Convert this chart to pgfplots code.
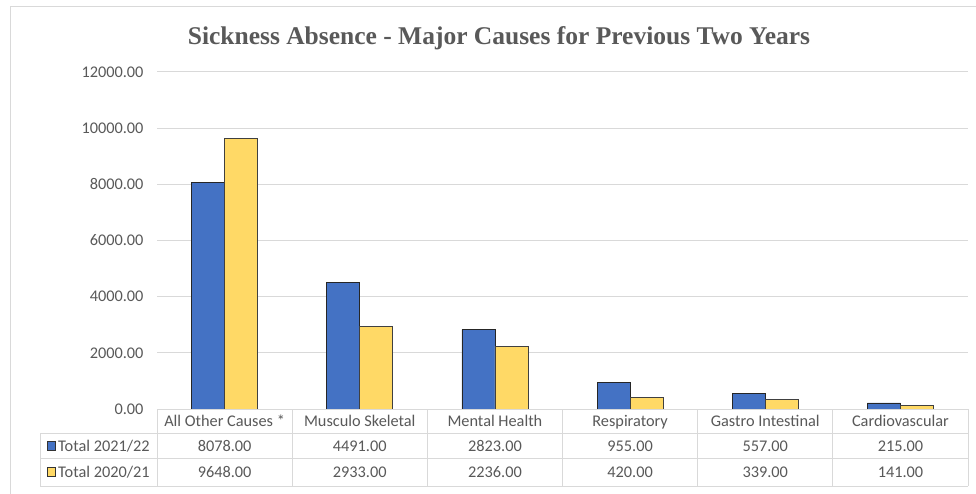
\documentclass[border=0pt]{standalone}
\usepackage{fontspec}
\setmainfont{Carlito}
\newfontfamily\titlefont{Liberation Serif}
\usepackage{pgfplots}
\usepackage{pgfplotstable}
\pgfplotsset{compat=1.18}
\definecolor{blueS}{HTML}{4472C4}
\definecolor{yelS}{HTML}{FFD966}
\definecolor{txt}{HTML}{595959}
\definecolor{gridc}{HTML}{D9D9D9}
\pgfplotstableread{
x  cat  a     b
0  A    8078  9648
1  B    4491  2933
2  C    2823  2236
3  D    955   420
4  E    557   339
5  F    215   141
}\datatab
\begin{document}
\begin{tikzpicture}[font=\fontsize{16.3}{19}\selectfont]
\path[use as bounding box] (0pt,0pt) rectangle (976pt,-494pt);
\fill[white] (0pt,0pt) rectangle (976pt,-494pt);
\draw[gridc, line width=1pt] (10pt,-494pt) -- (10pt,-7pt) -- (976pt,-7pt);
\node[font=\titlefont\bfseries\fontsize{25.5}{29}\selectfont, text=txt] at (499pt,-38pt) {Sickness Absence - Major Causes for Previous Two Years};
\begin{axis}[
  at={(157pt,-409pt)}, anchor=south west,
  scale only axis, width=811pt, height=337pt,
  xmin=-0.5, xmax=5.5, ymin=0, ymax=12000,
  ybar=0pt, bar width=0.244,
  xtick={0,...,5},
  xticklabels={All Other Causes *, Musculo Skeletal, Mental Health, Respiratory, Gastro Intestinal, Cardiovascular},
  xticklabel style={anchor=base, yshift=-17pt, text=txt},
  ytick={0,2000,...,12000},
  scaled y ticks=false,
  yticklabel style={/pgf/number format/.cd, fixed, fixed zerofill, precision=2, 1000 sep={}, assume math mode=true, /tikz/.cd, text=txt, xshift=-10pt},
  major tick length=0pt,
  axis line style={draw=none},
  ymajorgrids, grid style={gridc, line width=1pt},
  clip=false,
]
\addplot[fill=blueS, draw=black!85, line width=0.8pt] table[x=x, y=a] {\datatab};
\addplot[fill=yelS, draw=black!75, line width=0.8pt] table[x=x, y=b] {\datatab};
\end{axis}
% data table below the chart
\begin{scope}[gridc, line width=1pt]
\draw (157pt,-409pt) -- (968pt,-409pt);
\draw (40pt,-433pt) -- (968pt,-433pt);
\draw (40pt,-458pt) -- (968pt,-458pt);
\draw (40pt,-486pt) -- (968pt,-486pt);
\draw (40pt,-433pt) -- (40pt,-486pt);
\foreach \k in {0,...,6} {\draw ({157pt+\k*135.17pt},-409pt) -- ({157pt+\k*135.17pt},-486pt);}
\end{scope}
\fill[blueS, draw=black!80, line width=0.7pt] (47pt,-441pt) rectangle (55pt,-450pt);
\fill[yelS, draw=black!80, line width=0.7pt] (47pt,-467pt) rectangle (55pt,-476pt);
\node[anchor=base west, text=txt, inner sep=0pt] at (58pt,-451pt) {Total 2021/22};
\node[anchor=base west, text=txt, inner sep=0pt] at (58pt,-477.5pt) {Total 2020/21};
\foreach \v [count=\i from 0] in {8078.00,4491.00,2823.00,955.00,557.00,215.00}
  {\node[text=txt, anchor=base] at ({224.6pt+\i*135.17pt},-451pt) {\v};}
\foreach \v [count=\i from 0] in {9648.00,2933.00,2236.00,420.00,339.00,141.00}
  {\node[text=txt, anchor=base] at ({224.6pt+\i*135.17pt},-477.5pt) {\v};}
\end{tikzpicture}
\end{document}
